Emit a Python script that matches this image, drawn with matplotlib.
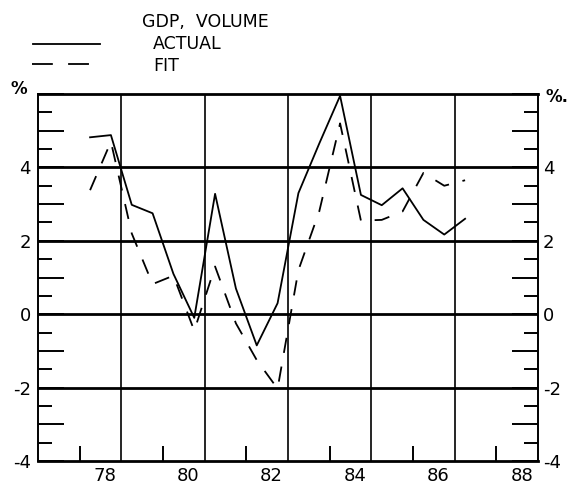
# GDP volume: actual vs fit (semi-annual, % change)

import matplotlib
matplotlib.use('Agg')
import matplotlib.pyplot as plt
from matplotlib.figure import Figure
from matplotlib.axes import Axes
from matplotlib.lines import Line2D
from matplotlib.transforms import ScaledTranslation

plt.rcParams['font.family'] = ['DejaVu Sans']
plt.rcParams['lines.scale_dashes'] = False

# data
years = [77.25, 77.75, 78.25, 78.75, 79.25, 79.75, 80.25, 80.75, 81.25, 81.75,
         82.25, 82.75, 83.25, 83.75, 84.25, 84.75, 85.25, 85.75, 86.25]
actual = [4.82, 4.88, 2.98, 2.75, 1.10, -0.10, 3.28, 0.70, -0.85, 0.30,
          3.30, 4.65, 5.95, 3.25, 2.97, 3.43, 2.57, 2.17, 2.60]
fit = [3.38, 4.70, 2.20, 0.82, 1.05, -0.45, 1.30, -0.25, -1.25, -2.03,
       1.20, 2.80, 5.20, 2.55, 2.57, 2.80, 3.85, 3.50, 3.65]

x_labels = ['78', '80', '82', '84', '86', '88']
x_major = [78, 80, 82, 84, 86, 88]
x_minor = [77, 79, 81, 83, 85, 87]
y_labels = {-4: '-4', -2: '-2', 0: '0', 2: '2', 4: '4'}

W, H = 568, 484
fig: Figure = plt.figure(figsize=(W / 100, H / 100), dpi=100, facecolor='white')
ax: Axes = fig.add_axes([38 / W, 23 / H, 500 / W, 367 / H])
ax.set_xlim(76, 88)
ax.set_ylim(-4, 6)

# grid
for v in x_major[:-1]:
    ax.axvline(v, color='black', lw=1.2, zorder=1)
for h in [-2, 0, 2, 4]:
    ax.axhline(h, color='black', lw=2.0, zorder=1)

ax.plot(years, actual, color='black', lw=1.3, zorder=3)
ax.plot(years, fit, color='black', lw=1.3, dashes=(11, 10), zorder=3)

for side in ['left', 'right']:
    ax.spines[side].set_linewidth(1.4)
for side in ['top', 'bottom']:
    ax.spines[side].set_linewidth(2.0)

# y ticks: long at integers, short at halves
ax.set_yticks(list(range(-4, 7)))
ax.set_yticklabels([y_labels.get(v, '') for v in range(-4, 7)])
ax.set_yticks([v + 0.5 for v in range(-4, 6)], minor=True)
ax.tick_params(axis='y', which='major', direction='in', length=19, width=1.4,
               left=True, right=True, labelleft=True, labelright=True,
               labelsize=13)
ax.tick_params(axis='y', which='major', pad=5, labelleft=True)
ax.tick_params(axis='y', which='minor', direction='in', length=10, width=1.4,
               left=True, right=True)
right_shift = ScaledTranslation(-2 / 100, 0, fig.dpi_scale_trans)
for tick in ax.yaxis.get_major_ticks():
    tick.label2.set_transform(tick.label2.get_transform() + right_shift)

# x ticks
ax.set_xticks(x_major)
ax.set_xticklabels(x_labels)
ax.set_xticks(x_minor, minor=True)
ax.tick_params(axis='x', which='major', length=0, labelsize=13, pad=4)
ax.tick_params(axis='x', which='minor', direction='in', length=11, width=1.4,
               bottom=True, top=False)
shift = ScaledTranslation(-5 / 100, 0, fig.dpi_scale_trans)
for lbl in ax.get_xticklabels():
    lbl.set_horizontalalignment('right')
    lbl.set_transform(lbl.get_transform() + shift)

# percent markers
fig.text(19 / W, 1 - 89 / H, '%', ha='center', va='center', fontsize=12,
         fontweight='bold')
fig.text(545 / W, 1 - 97 / H, '%.', ha='left', va='center', fontsize=12,
         fontweight='bold')

# title / legend
fig.text(142 / W, 1 - 22 / H, 'GDP,  VOLUME', ha='left', va='center', fontsize=12.5)
fig.text(153 / W, 1 - 44 / H, 'ACTUAL', ha='left', va='center', fontsize=12.5)
fig.text(153 / W, 1 - 66 / H, 'FIT', ha='left', va='center', fontsize=12.5)
fig.add_artist(Line2D([33 / W, 100 / W], [1 - 44 / H, 1 - 44 / H],
                      transform=fig.transFigure, color='black', lw=1.3))
fig.add_artist(Line2D([32 / W, 90 / W], [1 - 64 / H, 1 - 64 / H],
                      transform=fig.transFigure, color='black', lw=1.3,
                      dashes=(15, 11)))

fig.savefig('out.png', dpi=100, facecolor='white')
plt.close(fig)
